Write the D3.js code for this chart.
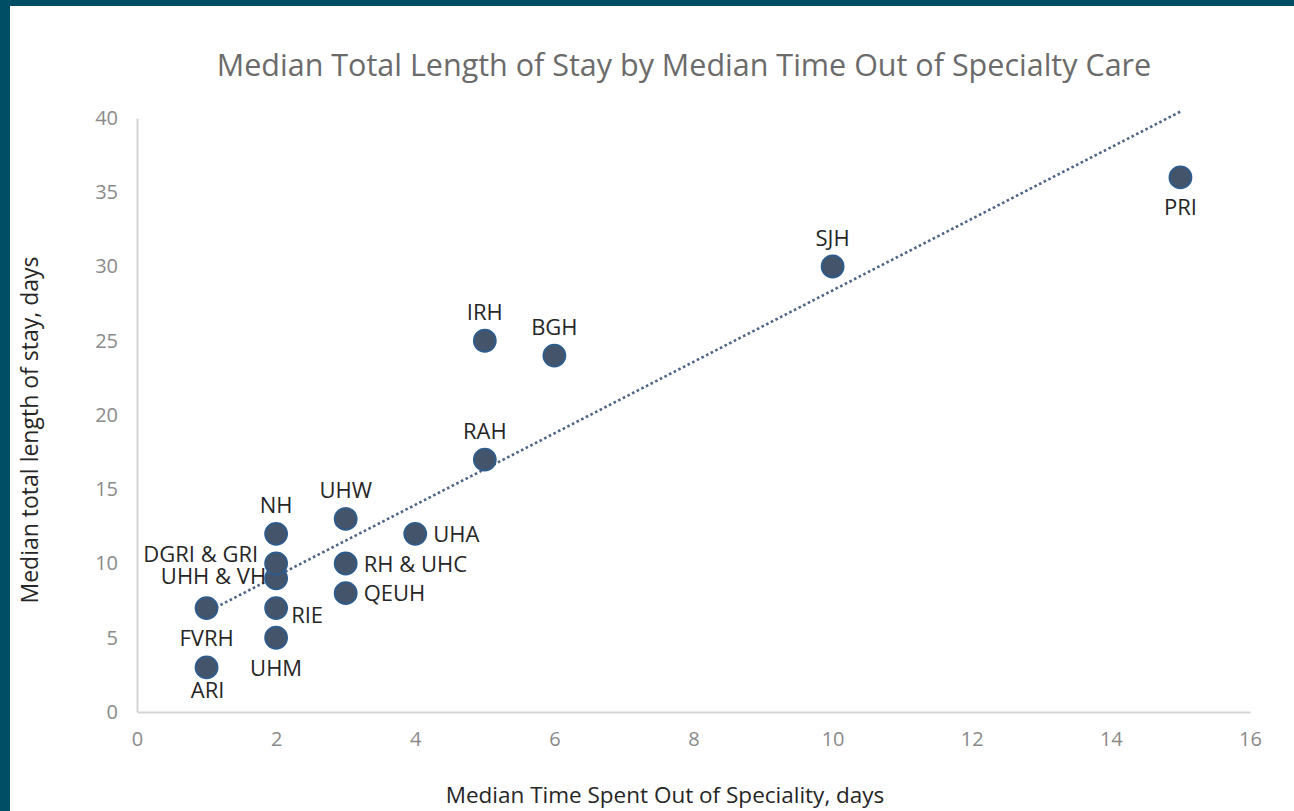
<!DOCTYPE html>
<html><head><meta charset="utf-8">
<script src="https://cdn.jsdelivr.net/npm/d3@7"></script>
<style>
html,body{margin:0;padding:0;background:#fff;}
svg{display:block;}
text{font-family:"Open Sans","Noto Sans",sans-serif;}
</style></head>
<body>
<svg id="c" width="1294" height="811"></svg>
<script>
const hospitals = ["ARI","FVRH","UHM","RIE","UHH & VH","DGRI & GRI","NH","QEUH","RH & UHC","UHW","UHA","RAH","IRH","BGH","SJH","PRI"];
const timeOut   = [1,1,2,2,2,2,2,3,3,3,4,5,5,6,10,15];
const lengthOfStay = [3,7,5,7,9,10,12,8,10,13,12,17,25,24,30,36];
const labelPos  = ["belowclose","below","below","rightlow","left","leftup","above","right","right","above","right","above","above","above","above","below"];
const xTicks = [0,2,4,6,8,10,12,14,16];
const yTicks = [0,5,10,15,20,25,30,35,40];

const svg = d3.select("#c");
// frame
svg.append("rect").attr("x",0).attr("y",0).attr("width",1294).attr("height",811).attr("fill","#fff");
svg.append("rect").attr("x",0).attr("y",0).attr("width",1294).attr("height",6).attr("fill","#004d66");
svg.append("rect").attr("x",0).attr("y",0).attr("width",10).attr("height",811).attr("fill","#004d66");

const x = d3.scaleLinear().domain([0,16]).range([137,1250]);
const y = d3.scaleLinear().domain([0,40]).range([712,118]);

// axes
const xAxis = svg.append("g").attr("transform",`translate(0,${y(0)})`)
  .call(d3.axisBottom(x).tickValues(xTicks).tickSize(0).tickPadding(20));
const yAxis = svg.append("g").attr("transform",`translate(${x(0)},0)`)
  .call(d3.axisLeft(y).tickValues(yTicks).tickSize(0).tickPadding(19));
[xAxis,yAxis].forEach(a=>{
  a.select(".domain").attr("stroke","#d4d4d4").attr("stroke-width",2);
  a.selectAll("text").attr("fill","#8a8a8a").style("font-size","20px").style("font-family","'Open Sans',sans-serif");
});

// title
svg.append("text").attr("x",684).attr("y",76).attr("text-anchor","middle")
  .attr("fill","#6b6b6b").style("font-size","30.5px")
  .text("Median Total Length of Stay by Median Time Out of Specialty Care");
svg.append("text").attr("x",665).attr("y",803).attr("text-anchor","middle")
  .attr("fill","#262626").style("font-size","22.5px")
  .text("Median Time Spent Out of Speciality, days");
svg.append("text").attr("transform","translate(38,430) rotate(-90)").attr("text-anchor","middle")
  .attr("fill","#262626").style("font-size","23px")
  .text("Median total length of stay, days");

// trendline (least squares, like Excel)
const n = timeOut.length;
const mx = d3.mean(timeOut), my = d3.mean(lengthOfStay);
let sxy=0,sxx=0;
for(let i=0;i<n;i++){sxy+=(timeOut[i]-mx)*(lengthOfStay[i]-my);sxx+=(timeOut[i]-mx)**2;}
const slope = sxy/sxx, icpt = my - slope*mx;
const xr = d3.extent(timeOut);
svg.append("path")
  .attr("d", d3.line().x(d=>x(d)).y(d=>y(icpt+slope*d))(xr))
  .attr("stroke","#4f6585").attr("stroke-width",2.6).attr("stroke-dasharray","2.6 2.6").attr("fill","none");

// points
const data = hospitals.map((h,i)=>({h,x:timeOut[i],y:lengthOfStay[i],p:labelPos[i]}));
svg.append("g").selectAll("circle").data(data).join("circle")
  .attr("cx",d=>x(d.x)).attr("cy",d=>y(d.y)).attr("r",11)
  .attr("fill","#44546a").attr("stroke","#2e5c8c").attr("stroke-width",1.8);

// labels
const off = {
  above:{dx:0,dy:-21,a:"middle"},
  below:{dx:0,dy:38,a:"middle"},
  belowclose:{dx:1,dy:31,a:"middle"},
  right:{dx:18,dy:8,a:"start"},
  rightlow:{dx:15,dy:15,a:"start"},
  left:{dx:-10,dy:6,a:"end"},
  leftup:{dx:-18,dy:-2,a:"end"}
};
svg.append("g").selectAll("text").data(data).join("text")
  .attr("x",d=>x(d.x)+off[d.p].dx).attr("y",d=>y(d.y)+off[d.p].dy)
  .attr("text-anchor",d=>off[d.p].a)
  .attr("fill","#262626").style("font-size","22px")
  .text(d=>d.h);
</script>
</body></html>
